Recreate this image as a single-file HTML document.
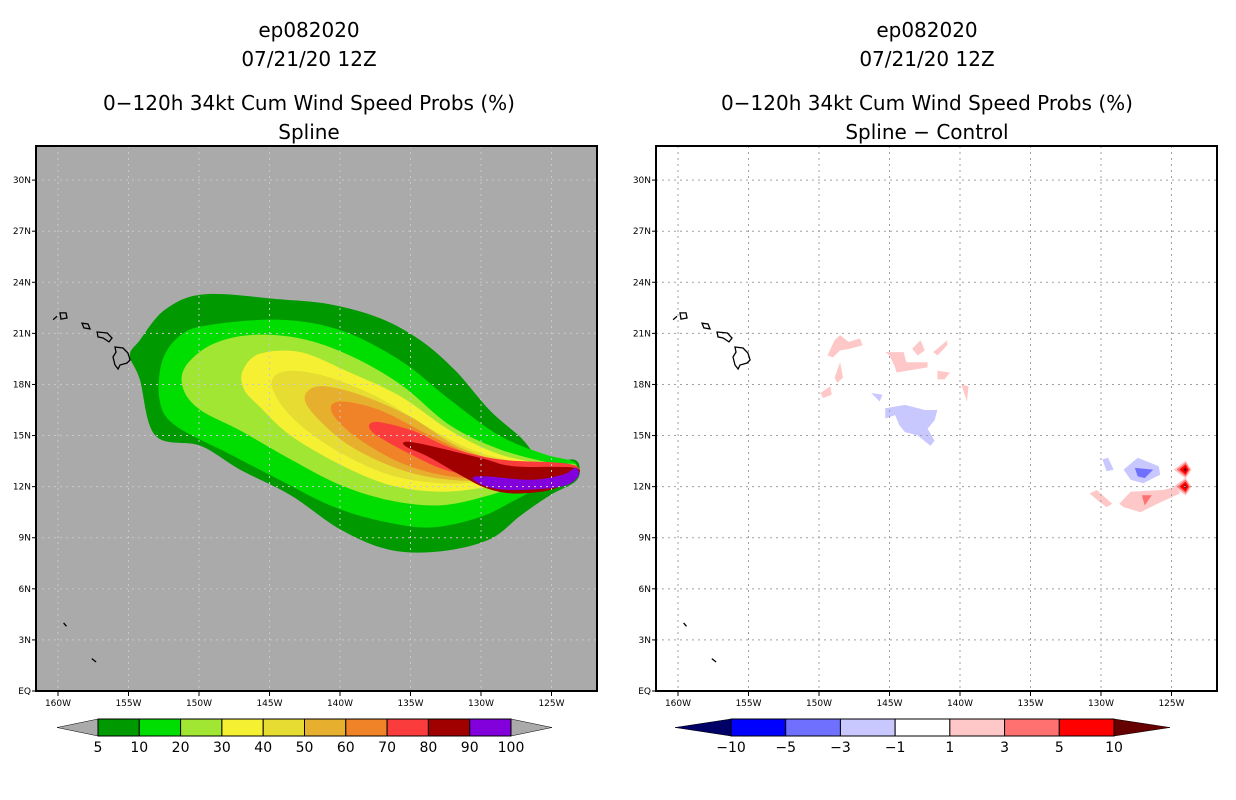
<!DOCTYPE html>
<html><head><meta charset="utf-8"><style>
body{margin:0;background:#fff;}
svg{display:block;font-family:"DejaVu Sans","Liberation Sans",sans-serif;}
.t{font-size:20px;text-anchor:middle;fill:#000;}
.tk{font-size:9px;fill:#000;}
</style></head><body>
<svg id="c" width="1236" height="800">
<g>
<text class="t" x="309" y="37">ep082020</text>
<text class="t" x="309" y="66">07/21/20 12Z</text>
<text class="t" x="309" y="110">0−120h 34kt Cum Wind Speed Probs (%)</text>
<text class="t" x="309" y="139">Spline</text>
</g>
<g>
<text class="t" x="927" y="37">ep082020</text>
<text class="t" x="927" y="66">07/21/20 12Z</text>
<text class="t" x="927" y="110">0−120h 34kt Cum Wind Speed Probs (%)</text>
<text class="t" x="927" y="139">Spline − Control</text>
</g>
</svg>
<script>
const lonTicks=[160,155,150,145,140,135,130,125];
const latTicks=[0,3,6,9,12,15,18,21,24,27,30];
const probLevels=[5,10,20,30,40,50,60,70,80,90];
const probColors=['#009900','#00dd00','#a0e632','#f5f032','#e6dc32','#e6af2d','#f08228','#fa3c3c','#a00000','#8200dc'];
const probBarLabels=['5','10','20','30','40','50','60','70','80','90','100'];
const diffLabels=['−10','−5','−3','−1','1','3','5','10'];
const diffColors=['#0000ff','#7070ff','#c8c8ff','#ffffff','#ffc8c8','#ff7070','#ff0000'];
const probContours=[
[[123.0,13.1],[123.5,13.6],[125.5,13.4],[127.2,14.9],[129.4,16.5],[131.8,18.8],[134.3,20.6],[137.2,21.9],[140.7,22.7],[144.3,23.0],[149.6,23.3],[152.4,22.4],[154.2,20.6],[154.9,19.7],[154.2,18.3],[153.1,15.0],[149.9,14.4],[147.1,13.0],[143.5,11.5],[140.0,9.5],[136.5,8.3],[132.9,8.2],[129.4,8.9],[127.2,10.3],[125.1,11.5],[123.3,12.3]],
[[123.3,13.4],[125.5,13.9],[128.7,15.0],[132.2,17.1],[135.7,19.4],[140.0,21.2],[144.3,21.8],[149.2,21.5],[151.3,20.9],[152.6,19.4],[152.8,17.1],[151.7,15.6],[147.8,13.9],[144.3,12.4],[140.7,10.9],[137.2,10.0],[133.6,9.6],[130.1,10.2],[127.6,11.2],[125.5,12.1],[123.7,12.5]],
[[123.3,13.3],[125.1,13.4],[128.7,14.2],[132.2,15.6],[135.7,18.0],[139.3,19.7],[142.8,20.7],[146.4,20.9],[149.2,20.3],[151.0,19.0],[151.1,17.7],[149.9,16.5],[147.1,15.3],[143.5,13.6],[140.0,12.1],[136.5,11.2],[132.9,10.9],[129.4,11.5],[126.5,12.3],[123.7,12.6]],
[[123.3,13.2],[125.1,13.3],[128.7,13.9],[132.2,15.3],[135.7,17.3],[139.3,18.7],[142.8,19.9],[145.7,19.8],[146.9,18.8],[146.8,17.7],[145.7,16.7],[143.5,15.0],[140.0,13.3],[136.5,12.1],[132.9,11.7],[129.4,12.0],[126.5,12.5],[123.7,12.7]],
[[123.3,13.1],[125.8,13.2],[130.1,14.0],[133.6,15.4],[137.2,17.2],[140.7,18.4],[143.5,18.8],[144.8,18.3],[144.4,17.1],[142.8,15.6],[140.0,14.0],[136.5,12.7],[132.9,12.2],[129.4,12.3],[126.5,12.6],[123.7,12.8]],
[[123.3,13.1],[127.2,13.2],[131.5,14.3],[135.0,16.1],[138.6,17.4],[141.4,17.9],[142.5,17.3],[141.8,16.2],[139.3,14.4],[135.7,13.0],[132.2,12.4],[128.7,12.4],[123.7,12.8]],
[[123.3,13.1],[126.5,13.2],[130.1,13.7],[133.6,15.0],[137.2,16.5],[140.0,17.0],[140.6,16.4],[139.0,15.0],[135.7,13.4],[132.2,12.6],[128.7,12.5],[123.7,12.8]],
[[123.1,13.1],[124.4,13.4],[128.7,13.6],[132.2,14.3],[134.9,15.3],[137.5,15.8],[137.7,15.2],[135.0,13.9],[132.2,12.9],[128.7,12.5],[124.0,12.6]],
[[123.3,13.1],[127.7,13.2],[130.1,13.7],[134.8,14.6],[135.4,14.4],[133.6,13.7],[131.3,12.6],[129.6,11.9],[127.7,11.6],[125.1,11.8],[123.5,12.5]],
[[123.3,13.1],[124.2,12.7],[126.5,12.4],[129.6,12.6],[130.6,12.5],[129.6,12.0],[127.7,11.8],[124.3,12.0],[123.1,12.6]]
];
const diffBlobLevels=[1,1,1,1,1,1,1,1,-1,-1,-1,-1,-2,1,1,2];
const diffBlobs=[
[[149.4,19.7],[148.9,20.6],[148.5,20.9],[147.9,20.5],[147.1,20.7],[146.9,20.3],[147.8,20.1],[148.5,20.0],[149.0,19.6]],
[[145.3,19.9],[144.0,19.9],[143.8,19.3],[142.3,19.3],[142.3,19.0],[144.5,18.7],[144.6,19.0],[145.0,19.7]],
[[143.4,20.1],[142.8,20.6],[142.5,20.0],[143.0,19.7]],
[[141.9,19.9],[140.9,20.6],[140.9,20.3],[141.6,19.7]],
[[148.9,18.4],[148.5,19.3],[148.3,18.4],[148.7,18.1]],
[[149.9,17.5],[149.2,17.9],[149.1,17.4],[149.7,17.2]],
[[141.6,18.8],[140.7,18.7],[141.1,18.3],[141.6,18.3]],
[[139.9,18.0],[139.4,17.9],[139.5,17.0]],
[[145.3,16.6],[143.9,16.8],[142.5,16.5],[141.6,16.5],[141.8,15.9],[142.3,15.4],[141.8,14.7],[142.1,14.4],[143.0,15.0],[143.9,15.2],[144.3,15.6],[144.6,16.2],[145.3,16.0]],
[[146.3,17.5],[145.5,17.4],[145.7,17.0]],
[[129.9,13.6],[129.5,13.7],[129.1,13.0],[129.6,12.9]],
[[128.4,13.0],[127.4,13.7],[125.9,13.2],[125.8,12.7],[127.0,12.2],[127.9,12.4]],
[[127.6,13.1],[126.3,13.0],[126.9,12.5],[127.4,12.6]],
[[128.7,11.0],[127.9,11.7],[125.6,11.8],[124.6,12.0],[124.4,11.6],[126.0,11.0],[127.2,10.5],[128.4,10.8]],
[[130.8,11.6],[130.3,11.8],[129.2,11.0],[129.6,10.8],[130.1,11.1]],
[[127.1,11.5],[126.4,11.5],[126.9,10.9]]
];
const diffPeaks=[[124.0,13.0],[124.0,12.0]];
const islands=[
[[155.96,20.2],[155.39,20.14],[155.04,19.85],[154.89,19.44],[155.1,19.26],[155.6,19.14],[155.74,18.91],[155.96,19.14],[156.1,19.61],[155.89,19.9]],
[[157.23,21.08],[156.5,21.02],[156.17,20.73],[156.38,20.5],[156.8,20.73],[157.16,20.79]],
[[158.3,21.6],[157.87,21.55],[157.73,21.26],[158.16,21.32]],
[[159.86,22.2],[159.43,22.2],[159.36,21.9],[159.79,21.84]],
[[160.35,21.8],[160.07,22.0]],
[[159.6,4.0],[159.4,3.8]],
[[157.6,1.9],[157.3,1.7]]
];
const NS='http://www.w3.org/2000/svg';
const svg=document.getElementById('c');
function mk(tag,attrs,parent){const e=document.createElementNS(NS,tag);for(const k in attrs)e.setAttribute(k,attrs[k]);(parent||svg).appendChild(e);return e;}
function xs(lon,x0){return x0+(160-lon)*14.1;}
function ys(lat){return 691-lat*17.03;}
function pts(poly,x0){return poly.map(p=>xs(p[0],x0).toFixed(1)+','+ys(p[1]).toFixed(1)).join(' ');}
function smooth(poly,x0){
  const P=poly.map(p=>[xs(p[0],x0),ys(p[1])]);const n=P.length;
  let d='M'+P[0][0].toFixed(1)+','+P[0][1].toFixed(1);
  for(let i=0;i<n;i++){
    const p0=P[(i-1+n)%n],p1=P[i],p2=P[(i+1)%n],p3=P[(i+2)%n];
    const c1=[p1[0]+(p2[0]-p0[0])/6,p1[1]+(p2[1]-p0[1])/6];
    const c2=[p2[0]-(p3[0]-p1[0])/6,p2[1]-(p3[1]-p1[1])/6];
    d+=` C${c1[0].toFixed(1)},${c1[1].toFixed(1)} ${c2[0].toFixed(1)},${c2[1].toFixed(1)} ${p2[0].toFixed(1)},${p2[1].toFixed(1)}`;
  }
  return d+'Z';
}
const diffColorFor={'1':'#ffc8c8','2':'#ff7070','-1':'#c8c8ff','-2':'#7070ff'};

function panel(x0,left,name){
  const g=mk('g',{});
  
  
  const L=x0-22,R=x0+539;
  const cp=mk('clipPath',{id:'clip'+x0},g);mk('rect',{x:L,y:146,width:R-L,height:545},cp);
  const bg=mk('rect',{x:L,y:146,width:R-L,height:545,fill:left?'#aaaaaa':'#ffffff'},g);
  
  
  const inner=mk('g',{'clip-path':'url(#clip'+x0+')'},g);
  if(left){
    probContours.forEach((poly,i)=>{
      const p=mk('path',{d:smooth(poly,x0),fill:probColors[i]},inner);
      
      
    });
  } else {
    diffBlobs.forEach((poly,i)=>{
      const p=mk('polygon',{points:pts(poly,x0),fill:diffColorFor[diffBlobLevels[i]]},inner);
      
      
    });
    diffPeaks.forEach(pk=>{
      const cx=xs(pk[0],x0),cy=ys(pk[1]);
      [[12,9,'#ffc8c8'],[9,7,'#ff7070'],[6,5,'#ff0000'],[2,2,'#660000']].forEach(s=>{
        const p=mk('polygon',{points:`${cx-s[0]},${cy} ${cx},${cy-s[1]} ${cx+s[0]*0.5},${cy} ${cx},${cy+s[1]}`,fill:s[2]},inner);
        
        
      });
    });
  }
  lonTicks.forEach(l=>{const ln=mk('line',{x1:xs(l,x0),x2:xs(l,x0),y1:146,y2:691,stroke:left?'#c8c8c8':'#a0a0a0','stroke-dasharray':'2,4','stroke-width':1},inner);
    
    });
  latTicks.slice(1).forEach(l=>{const ln=mk('line',{x1:L,x2:R,y1:ys(l),y2:ys(l),stroke:left?'#c8c8c8':'#a0a0a0','stroke-dasharray':'2,4','stroke-width':1},inner);
    
    });
  islands.forEach(poly=>{
    const isl=mk(poly.length>2?'polygon':'polyline',{points:pts(poly,x0),fill:'none',stroke:'#000','stroke-width':1.3},inner);
    
    
  });
  const fr=mk('rect',{x:L,y:146,width:R-L,height:545,fill:'none',stroke:'#000','stroke-width':2},g);
  
  
  lonTicks.forEach(l=>{
    const x=xs(l,x0);
    mk('line',{x1:x,x2:x,y1:691,y2:696,stroke:'#000'},g);
    const t=mk('text',{x:x,y:706,class:'tk','text-anchor':'middle'},g);t.textContent=l+'W';
    
    
  });
  latTicks.forEach(l=>{
    const y=ys(l);
    mk('line',{x1:L-4,x2:L,y1:y,y2:y,stroke:'#000'},g);
    const t=mk('text',{x:L-5,y:y+3,class:'tk','text-anchor':'end'},g);t.textContent=l===0?'EQ':l+'N';
    
    
  });
}
panel(58,true,'left-map-spline');
panel(678,false,'right-map-difference');

function colorbar(x0,x1,tipL,tipR,colors,labels,lc,rc,name){
  const g=mk('g',{});
  
  
  const y0=719,y1=736,ym=727.5,w=(x1-x0)/colors.length;
  mk('polygon',{points:`${tipL},${ym} ${x0},${y0} ${x0},${y1}`,fill:lc,stroke:'#000','stroke-width':0.5},g);
  mk('polygon',{points:`${tipR},${ym} ${x1},${y0} ${x1},${y1}`,fill:rc,stroke:'#000','stroke-width':0.5},g);
  colors.forEach((c,i)=>{const r=mk('rect',{x:x0+i*w,y:y0,width:w,height:y1-y0,fill:c,stroke:'#000','stroke-width':1},g);
    
    });
  labels.forEach((s,i)=>{const t=mk('text',{x:x0+i*w,y:752,'font-size':14,'text-anchor':'middle'},g);t.textContent=s;
    
    });
}
colorbar(98,511,57,552,probColors,probBarLabels,'#aaaaaa','#aaaaaa','prob-colorbar');
colorbar(731,1114,675,1170,diffColors,diffLabels,'#000066','#660000','diff-colorbar');
</script>
</body></html>
